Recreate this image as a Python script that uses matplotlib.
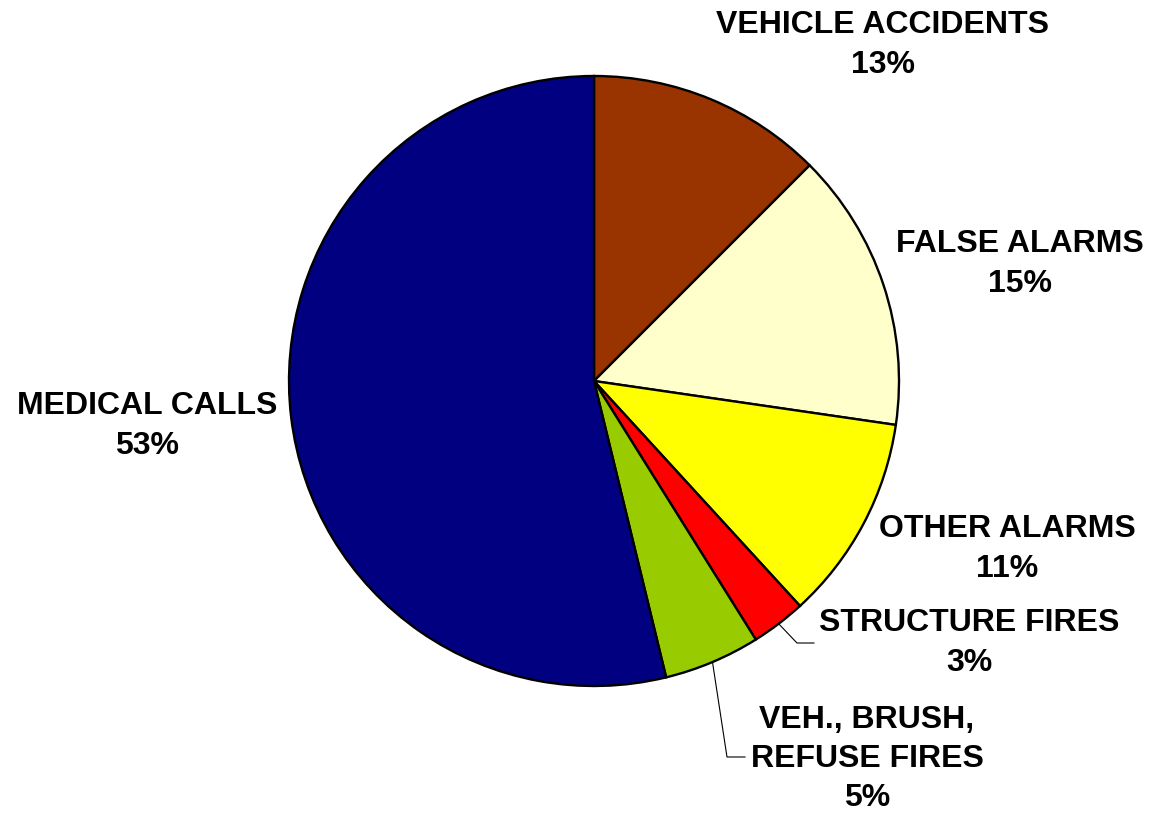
import numpy as np
import matplotlib
matplotlib.use("Agg")
import matplotlib.pyplot as plt

# slice shares and the labels printed next to them
categories = ["VEHICLE ACCIDENTS", "FALSE ALARMS", "OTHER ALARMS",
              "STRUCTURE FIRES", "VEH., BRUSH,\nREFUSE FIRES", "MEDICAL CALLS"]
shares = [12.5, 14.8, 10.9, 2.9, 5.1, 53.8]
pct_labels = ["13%", "15%", "11%", "3%", "5%", "53%"]
colors = ["#993300", "#FFFFCC", "#FFFF00", "#FF0000", "#99CC00", "#000080"]

W, H = 1153, 814
fig = plt.figure(figsize=(W / 100, H / 100), dpi=100)
ax = fig.add_axes([0, 0, 1, 1])

cx, cy, r = 594, H - 381, 305
wedges, _ = ax.pie(shares, colors=colors, startangle=90, counterclock=False,
                   center=(cx, cy), radius=r, frame=True,
                   wedgeprops=dict(edgecolor="black", linewidth=1.7))
ax.set_xlim(0, W)
ax.set_ylim(0, H)
ax.axis("off")

# label block centres (image coords)
label_pos = [(883, 45), (1020, 264), (1007, 549), (969, 643), (867, 759), (147, 426)]
for cat, pct, (x, y) in zip(categories, pct_labels, label_pos):
    ax.text(x, H - y, cat + "\n" + pct, ha="center", va="center",
            fontsize=23, fontweight="bold", family="Liberation Sans",
            linespacing=1.4)

# leader lines for the two small slices
elbows = {3: [(797, 643), (814, 643)], 4: [(727, 757), (745, 757)]}
for i, pts in elbows.items():
    w = wedges[i]
    mid = np.deg2rad((w.theta1 + w.theta2) / 2)
    sx, sy = cx + r * np.cos(mid), cy + r * np.sin(mid)
    xs = [sx] + [p[0] for p in pts]
    ys = [sy] + [H - p[1] for p in pts]
    ax.plot(xs, ys, color="black", linewidth=0.8)

fig.savefig("out.png", dpi=100, facecolor="white")
